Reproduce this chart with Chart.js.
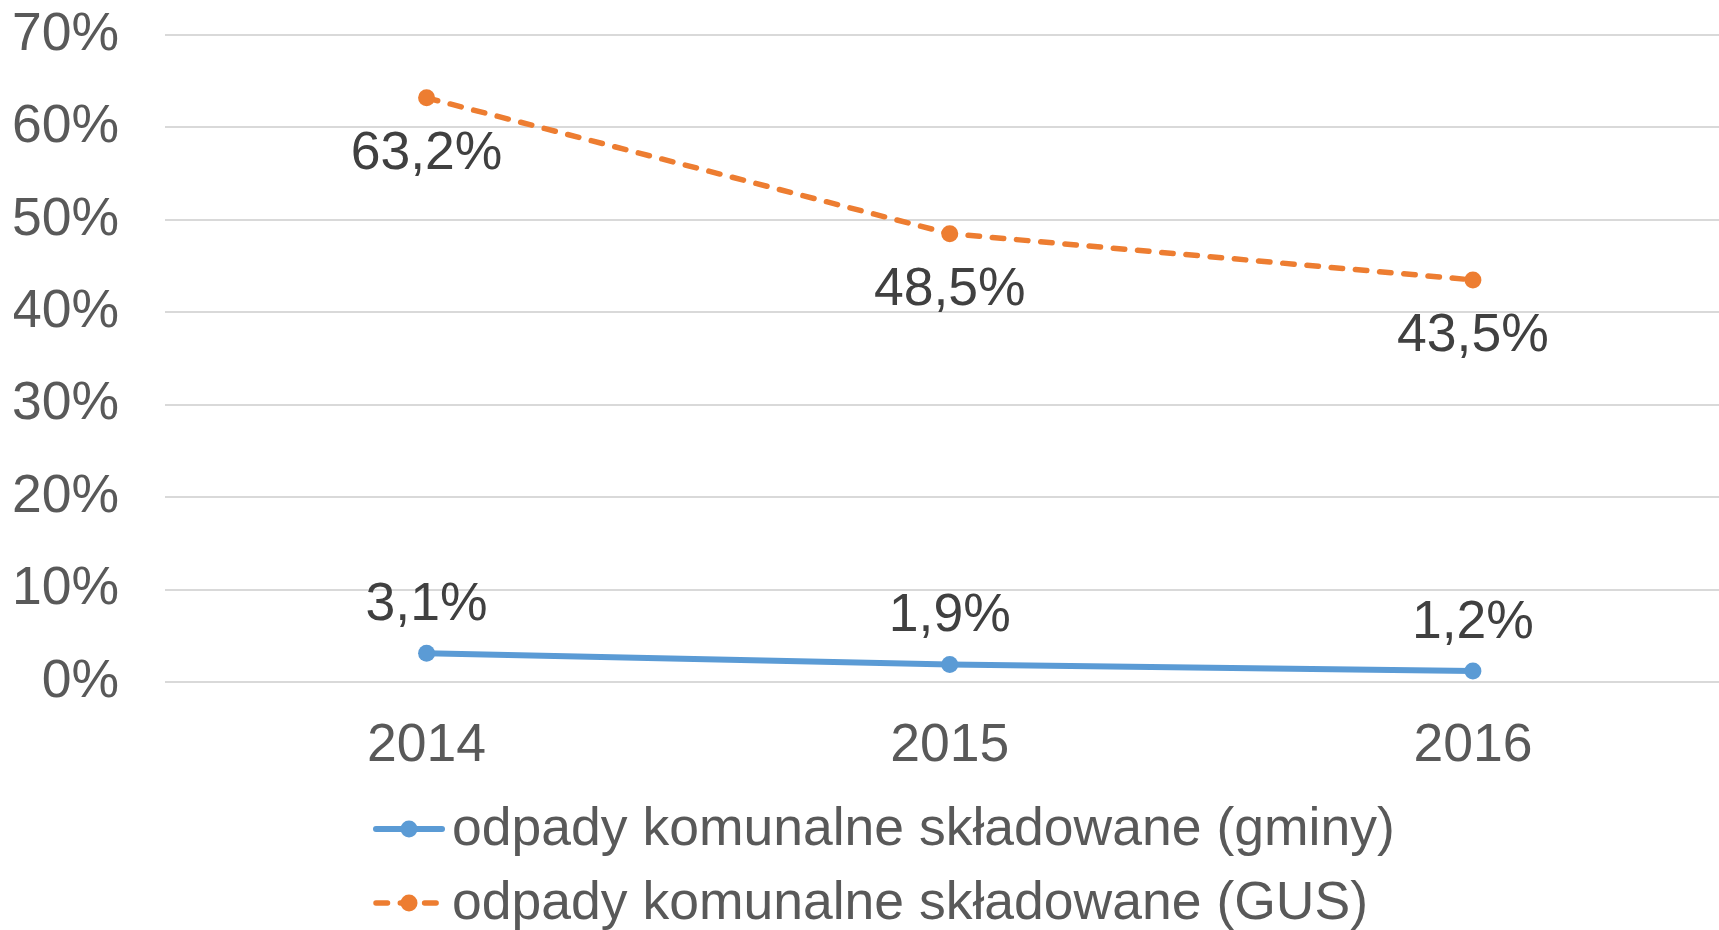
<!DOCTYPE html>
<html>
<head>
<meta charset="utf-8">
<style>
html,body{margin:0;padding:0;background:#ffffff;overflow:hidden;width:1719px;height:930px}
#wrap{position:relative;width:1743px;height:930px}
canvas{display:block}
</style>
<script src="https://cdn.jsdelivr.net/npm/chart.js@4/dist/chart.umd.min.js"></script>
</head>
<body>
<div id="wrap"><canvas id="c"></canvas></div>
<script>
// ---- data ----
const categories = ['2014', '2015', '2016'];
const seriesNames = ['odpady komunalne składowane (gminy)', 'odpady komunalne składowane (GUS)'];
const gminyValues = [3.1, 1.9, 1.2];
const gusValues = [63.2, 48.5, 43.5];
const yTickMin = 0;
const yTickMax = 70;
const yTickStep = 10;

const FONT = '"Liberation Sans", Arial, Helvetica, sans-serif';
const FSIZE = 53.5;
const BLUE = '#5B9BD5';
const ORANGE = '#ED7D31';
const DASH = [11.5, 12.8];

function fmt(v) { return v.toFixed(1).replace('.', ',') + '%'; }

const valueLabels = {
  id: 'valueLabels',
  afterDatasetsDraw(chart) {
    const ctx = chart.ctx;
    ctx.save();
    ctx.font = FSIZE + 'px ' + FONT;
    ctx.fillStyle = '#404040';
    ctx.textAlign = 'center';
    ctx.textBaseline = 'alphabetic';
    chart.data.datasets.forEach((ds, i) => {
      const meta = chart.getDatasetMeta(i);
      meta.data.forEach((pt, j) => {
        const y = ds.labelBelow ? pt.y + 71 : pt.y - 33;
        ctx.fillText(fmt(ds.data[j]), pt.x, y);
      });
    });
    ctx.restore();
  }
};

const customLegend = {
  id: 'customLegend',
  afterDraw(chart) {
    const ctx = chart.ctx;
    const rows = [845, 919];
    ctx.save();
    chart.data.datasets.forEach((ds, i) => {
      const base = rows[i];
      const cy = base - 16;
      ctx.strokeStyle = ds.borderColor;
      ctx.lineWidth = ds.borderWidth;
      ctx.lineCap = 'round';
      ctx.setLineDash(ds.borderDash || []);
      ctx.beginPath();
      ctx.moveTo(376, cy);
      ctx.lineTo(442, cy);
      ctx.stroke();
      ctx.setLineDash([]);
      ctx.fillStyle = ds.pointBackgroundColor;
      ctx.beginPath();
      ctx.arc(409, cy, ds.pointRadius, 0, Math.PI * 2);
      ctx.fill();
      ctx.font = FSIZE + 'px ' + FONT;
      ctx.fillStyle = '#595959';
      ctx.textAlign = 'left';
      ctx.textBaseline = 'alphabetic';
      ctx.fillText(ds.label, 452, base);
    });
    ctx.restore();
  }
};

new Chart(document.getElementById('c'), {
  type: 'line',
  data: {
    labels: categories,
    datasets: [
      {
        label: seriesNames[0],
        data: gminyValues,
        borderColor: BLUE,
        backgroundColor: BLUE,
        pointBackgroundColor: BLUE,
        pointBorderColor: BLUE,
        borderWidth: 6,
        pointRadius: 8.5,
        pointBorderWidth: 0,
        borderCapStyle: 'round',
        tension: 0,
        labelBelow: false
      },
      {
        label: seriesNames[1],
        data: gusValues,
        borderColor: ORANGE,
        backgroundColor: ORANGE,
        pointBackgroundColor: ORANGE,
        pointBorderColor: ORANGE,
        borderWidth: 5.5,
        borderDash: DASH,
        borderCapStyle: 'round',
        pointRadius: 8.5,
        pointBorderWidth: 0,
        tension: 0,
        labelBelow: true
      }
    ]
  },
  options: {
    responsive: true,
    maintainAspectRatio: false,
    devicePixelRatio: 1,
    animation: false,
    layout: { padding: { top: 35, left: 14, right: 0, bottom: 154 } },
    plugins: {
      legend: { display: false },
      tooltip: { enabled: false }
    },
    scales: {
      x: {
        offset: true,
        grid: { display: false, drawTicks: false },
        border: { display: false },
        ticks: { color: '#595959', font: { family: FONT, size: FSIZE }, padding: 32, maxRotation: 0 },
        afterFit(scale) { scale.height = 94; }
      },
      y: {
        min: yTickMin,
        max: yTickMax,
        grid: { color: '#D9D9D9', lineWidth: 2, drawTicks: false },
        border: { display: false },
        ticks: {
          stepSize: yTickStep,
          color: '#595959',
          font: { family: FONT, size: FSIZE },
          padding: 46,
          callback: v => v + '%'
        },
        afterFit(scale) { scale.width = 151; scale.paddingTop = 0; scale.paddingBottom = 0; }
      }
    }
  },
  plugins: [valueLabels, customLegend]
});
</script>
</body>
</html>
